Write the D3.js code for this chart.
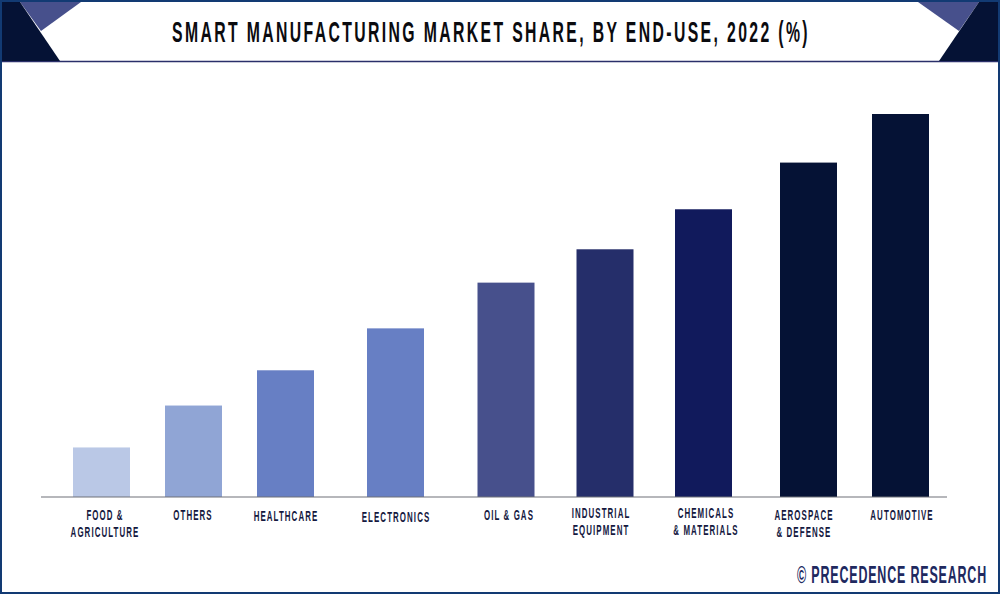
<!DOCTYPE html>
<html>
<head>
<meta charset="utf-8">
<script src="https://d3js.org/d3.v7.min.js"></script>
<style>
	html, body { margin: 0; padding: 0; background: #fff; }
	svg { display: block; }
	text { font-family: "Liberation Sans", sans-serif; font-weight: 700; }
</style>
</head>
<body>
<svg id="chart" width="1000" height="594"></svg>
<script>
// values, the picture has no value axis
var categories = ["Food & Agriculture", "Others", "Healthcare", "Electronics", "Oil & Gas",
	"Industrial Equipment", "Chemicals & Materials", "Aerospace & Defense", "Automotive"];
var shares = [2.6, 4.8, 6.65, 8.85, 11.25, 13.0, 15.1, 17.55, 20.1];
var barColors = ["#bac8e6", "#90a5d5", "#677fc4", "#677fc4", "#47508c", "#252e6a", "#111a5c", "#051235", "#051235"];
var labelLines = [["FOOD &", "AGRICULTURE"], ["OTHERS"], ["HEALTHCARE"], ["ELECTRONICS"], ["OIL & GAS"],
	["INDUSTRIAL", "EQUIPMENT"], ["CHEMICALS", "& MATERIALS"], ["AEROSPACE", "& DEFENSE"], ["AUTOMOTIVE"]];
var titleText = "SMART MANUFACTURING MARKET SHARE, BY END-USE, 2022 (%)";
var sourceText = "© PRECEDENCE RESEARCH";

// layout, the bars in the picture are not evenly spaced
var barCenters = [101.5, 193.5, 285.5, 395.5, 506, 605, 703.5, 808.5, 900.5];
var labelCenters = [105, 193, 286, 396, 509, 601, 706, 804, 902];
var labelTops = [520, 520, 521, 522, 520, 518, 518, 520, 520];
var barWidth = 57, baseY = 497, topY = 114;
var labelSquash = 0.545;

var svg = d3.select("#chart");

var x = d3.scaleOrdinal().domain(categories).range(barCenters);
var labelX = d3.scaleOrdinal().domain(categories).range(labelCenters);
var labelY = d3.scaleOrdinal().domain(categories).range(labelTops);
var color = d3.scaleOrdinal().domain(categories).range(barColors);
var y = d3.scaleLinear().domain([0, d3.max(shares)]).range([baseY, topY]);

// no condensed font here, so text is squeezed sideways around its anchor point
function squeeze(sel, px, py, sx) {
	sel.attr("transform", "translate(" + px + "," + py + ") scale(" + sx + ",1)");
}

// frame and header
svg.append("rect").attr("x", 1).attr("y", 1).attr("width", 998).attr("height", 592)
	.attr("fill", "#fff").attr("stroke", "#123a73").attr("stroke-width", 2);
svg.append("line").attr("x1", 2).attr("x2", 998).attr("y1", 61.5).attr("y2", 61.5)
	.attr("stroke", "#2a2f6a").attr("stroke-width", 1.5);

var shapes = [
	{ fill: "#47508c", pts: [[20, 2], [81, 2], [41, 31]] },
	{ fill: "#051235", pts: [[2, 2], [20, 2], [60, 61], [2, 61]] },
	{ fill: "#47508c", pts: [[918, 2], [979, 2], [959, 31]] },
	{ fill: "#051235", pts: [[979, 2], [998, 2], [998, 61], [939, 61]] }
];
svg.selectAll("polygon").data(shapes).enter().append("polygon")
	.attr("fill", function(d){ return d.fill; })
	.attr("points", function(d){ return d.pts.join(" "); });

var title = svg.append("text")
	.attr("text-anchor", "middle")
	.attr("font-size", 30).attr("letter-spacing", 4.5).attr("fill", "#0b0b0f")
	.text(titleText);
squeeze(title, 491, 42, 638 / title.node().getComputedTextLength());

// bars
svg.selectAll("rect.bar").data(categories).enter().append("rect")
	.attr("class", "bar")
	.attr("x", function(d){ return x(d) - barWidth / 2; })
	.attr("y", function(d, i){ return y(shares[i]); })
	.attr("width", barWidth)
	.attr("height", function(d, i){ return baseY - y(shares[i]); })
	.attr("fill", function(d){ return color(d); });

svg.append("line").attr("x1", 41).attr("x2", 947).attr("y1", baseY).attr("y2", baseY)
	.attr("stroke", "#6f7078").attr("stroke-width", 1.2);

// category labels, one or two lines
var labels = svg.selectAll("g.label").data(categories).enter().append("g").attr("class", "label");
labels.each(function(d, i){
	d3.select(this).selectAll("text").data(labelLines[i]).enter().append("text")
		.attr("text-anchor", "middle")
		.attr("font-size", 14.5).attr("letter-spacing", 2).attr("fill", "#15193f")
		.text(function(line){ return line; })
		.each(function(line, j){ squeeze(d3.select(this), labelX(d), labelY(d) + j * 17, labelSquash); });
});

var source = svg.append("text")
	.attr("text-anchor", "end")
	.attr("font-size", 23).attr("letter-spacing", 1.5).attr("fill", "#20295f")
	.text(sourceText);
squeeze(source, 987, 583, 190 / source.node().getComputedTextLength());
</script>
</body>
</html>
